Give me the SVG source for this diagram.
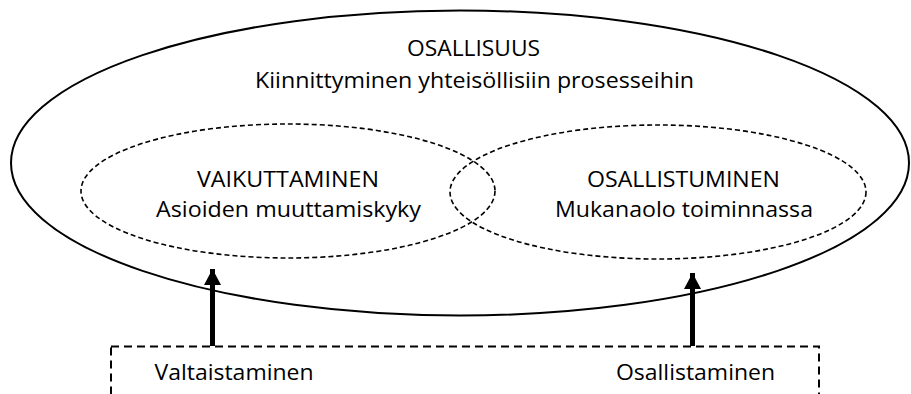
<svg xmlns="http://www.w3.org/2000/svg" width="911" height="394" viewBox="0 0 911 394">
<style>
text{font-family:"Open Sans","Liberation Sans",sans-serif;font-size:22px;fill:#000;text-anchor:middle}
.solid{fill:none;stroke:#000;stroke-width:2}
.dash{fill:none;stroke:#000;stroke-width:1.6;stroke-dasharray:5 3}
.box{fill:none;stroke:#000;stroke-width:2;stroke-dasharray:8 5}
.arrow{stroke:#000;stroke-width:5;fill:none}
</style>
<defs>
<marker id="ah" markerUnits="userSpaceOnUse" markerWidth="18" markerHeight="18" viewBox="0 0 18 18" refX="16" refY="9" orient="auto">
<polygon points="0,0.5 16,9 0,17.5" fill="#000"/>
</marker>
</defs>
<rect width="911" height="394" fill="#fff"/>
<g id="osallisuus">
<ellipse class="solid" cx="460" cy="163" rx="449" ry="152.5"/>
<text x="473.5" y="56" textLength="133" lengthAdjust="spacingAndGlyphs">OSALLISUUS</text>
<text x="474.5" y="88" textLength="439" lengthAdjust="spacingAndGlyphs">Kiinnittyminen yhteisöllisiin prosesseihin</text>
</g>
<g id="vaikuttaminen">
<ellipse class="dash" cx="288" cy="191" rx="207" ry="67"/>
<text x="288" y="187" textLength="182" lengthAdjust="spacingAndGlyphs">VAIKUTTAMINEN</text>
<text x="288.5" y="217" textLength="265" lengthAdjust="spacingAndGlyphs">Asioiden muuttamiskyky</text>
</g>
<g id="osallistuminen">
<ellipse class="dash" cx="658" cy="192" rx="208" ry="67"/>
<text x="683.5" y="187" textLength="193" lengthAdjust="spacingAndGlyphs">OSALLISTUMINEN</text>
<text x="684" y="217" textLength="258" lengthAdjust="spacingAndGlyphs">Mukanaolo toiminnassa</text>
</g>
<g id="alusta">
<rect class="box" x="111" y="346.5" width="708" height="70"/>
<text x="234" y="380" textLength="159" lengthAdjust="spacingAndGlyphs">Valtaistaminen</text>
<text x="695.5" y="380" textLength="159" lengthAdjust="spacingAndGlyphs">Osallistaminen</text>
</g>
<g id="connectors">
<line class="arrow" x1="212.5" y1="346" x2="212.5" y2="269" marker-end="url(#ah)"/>
<line class="arrow" x1="692.5" y1="346" x2="692.5" y2="273" marker-end="url(#ah)"/>
</g>
</svg>
